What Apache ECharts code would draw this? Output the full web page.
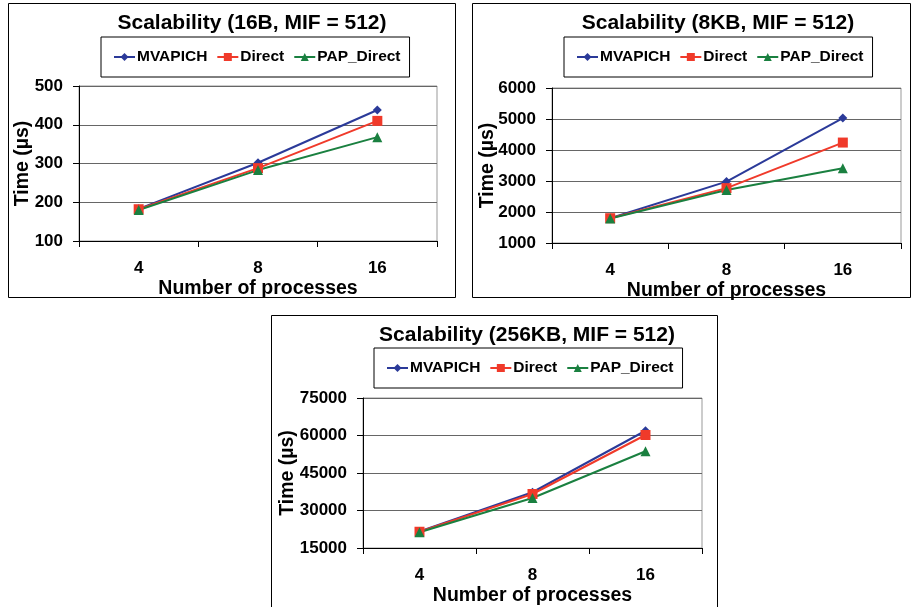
<!DOCTYPE html>
<html lang="en">
<head>
    <meta charset="UTF-8">
    <title>Scalability</title>
    <script type="text/javascript" src="https://cdn.jsdelivr.net/npm/echarts@6/dist/echarts.min.js"></script>
</head>
<body style="margin:0;background:#fff">
<div id="main" style="width:912px;height:607px"></div>
<script type="text/javascript">
    var categories = ['4', '8', '16'];
    var seriesNames = ['MVAPICH', 'Direct', 'PAP_Direct'];

    // 16B
    var mvapich16B = [183, 302, 438];
    var direct16B = [182, 288, 410];
    var pap16B = [180, 283, 368];
    // 8KB
    var mvapich8KB = [1800, 2980, 5030];
    var direct8KB = [1800, 2770, 4240];
    var pap8KB = [1790, 2710, 3410];
    // 256KB
    var mvapich256KB = [21600, 37300, 61900];
    var direct256KB = [21500, 36600, 60200];
    var pap256KB = [21300, 35000, 53700];

    var colors = ['#2b3a99', '#f03a2a', '#1a8040'];
    var symbols = ['diamond', 'rect', 'triangle'];
    var symbolSizes = [9, 10, 10];
    var font = 'Arial, "Liberation Sans", sans-serif';

    var panels = [
        {title: 'Scalability (16B, MIF = 512)', titleX: 247, box: [8, 3, 447, 294], grid: [79, 86, 437, 241],
         min: 100, max: 500, interval: 100, data: [mvapich16B, direct16B, pap16B],
         legend: [101, 37], nameGap: 46},
        {title: 'Scalability (8KB, MIF = 512)', titleX: 713, box: [472, 3, 438, 294], grid: [552, 88, 901, 243],
         min: 1000, max: 6000, interval: 1000, data: [mvapich8KB, direct8KB, pap8KB],
         legend: [564, 37], nameGap: 54},
        {title: 'Scalability (256KB, MIF = 512)', titleX: 522, box: [271, 315, 446, 300], grid: [363, 398, 702, 550],
         min: 15000, max: 75000, interval: 15000, data: [mvapich256KB, direct256KB, pap256KB],
         legend: [374, 348], nameGap: 65}
    ];

    var option = {
        animation: false,
        backgroundColor: '#fff',
        title: [], legend: [], grid: [], xAxis: [], yAxis: [], series: [], graphic: []
    };

    panels.forEach(function (p, i) {
        // outer frame
        option.graphic.push({
            type: 'rect', silent: true, z: -1,
            shape: {x: p.box[0] + 0.5, y: p.box[1] + 0.5, width: p.box[2], height: p.box[3]},
            style: {fill: 'none', stroke: '#000', lineWidth: 1}
        });
        option.title.push({
            text: p.title,
            left: p.titleX,
            top: p.box[1] + 5,
            textAlign: 'center',
            textStyle: {fontFamily: font, fontWeight: 'bold', fontSize: 21, color: '#000'}
        });
        option.legend.push({
            data: seriesNames,
            left: p.legend[0],
            top: p.legend[1],
            orient: 'horizontal',
            padding: [12, 9, 12, 12],
            itemGap: 9,
            itemWidth: 21,
            itemHeight: 10,
            borderColor: '#000',
            borderWidth: 1,
            textStyle: {fontFamily: font, fontWeight: 'bold', fontSize: 15.5, color: '#000', padding: [0, 0, 0, -3]}
        });
        option.grid.push({
            left: p.grid[0], top: p.grid[1],
            width: p.grid[2] - p.grid[0], height: p.grid[3] - p.grid[1],
            show: true, borderColor: '#999', borderWidth: 1
        });
        option.xAxis.push({
            type: 'category', gridIndex: i, data: categories, boundaryGap: true,
            name: 'Number of processes', nameLocation: 'middle', nameGap: 38,
            nameMoveOverlap: false,
            nameTextStyle: {fontFamily: font, fontWeight: 'bold', fontSize: 19.5, color: '#000'},
            axisLine: {lineStyle: {color: '#000', width: 1}},
            axisTick: {show: true, length: 6, inside: false, lineStyle: {color: '#000'}},
            axisLabel: {fontFamily: font, fontWeight: 'bold', fontSize: 17, color: '#000', margin: 19},
            splitLine: {show: false}
        });
        option.yAxis.push({
            type: 'value', gridIndex: i, min: p.min, max: p.max, interval: p.interval,
            name: 'Time (\u00b5s)', nameLocation: 'middle', nameGap: p.nameGap,
            nameMoveOverlap: false,
            nameTextStyle: {fontFamily: font, fontWeight: 'bold', fontSize: 19.5, color: '#000'},
            axisLine: {show: true, lineStyle: {color: '#000', width: 1}},
            axisTick: {show: true, length: 6, lineStyle: {color: '#000'}},
            axisLabel: {
                fontFamily: font, fontWeight: 'bold', fontSize: 17, color: '#000', margin: 16,
                formatter: function (v) { return String(v); }
            },
            splitLine: {show: true, lineStyle: {color: '#666', width: 1}}
        });
        seriesNames.forEach(function (name, k) {
            option.series.push({
                name: name, type: 'line', xAxisIndex: i, yAxisIndex: i,
                data: p.data[k],
                symbol: symbols[k], symbolSize: symbolSizes[k],
                itemStyle: {color: colors[k]},
                lineStyle: {color: colors[k], width: 2}
            });
        });
    });

    var myChart = echarts.init(document.getElementById('main'));
    myChart.setOption(option);
</script>
</body>
</html>
